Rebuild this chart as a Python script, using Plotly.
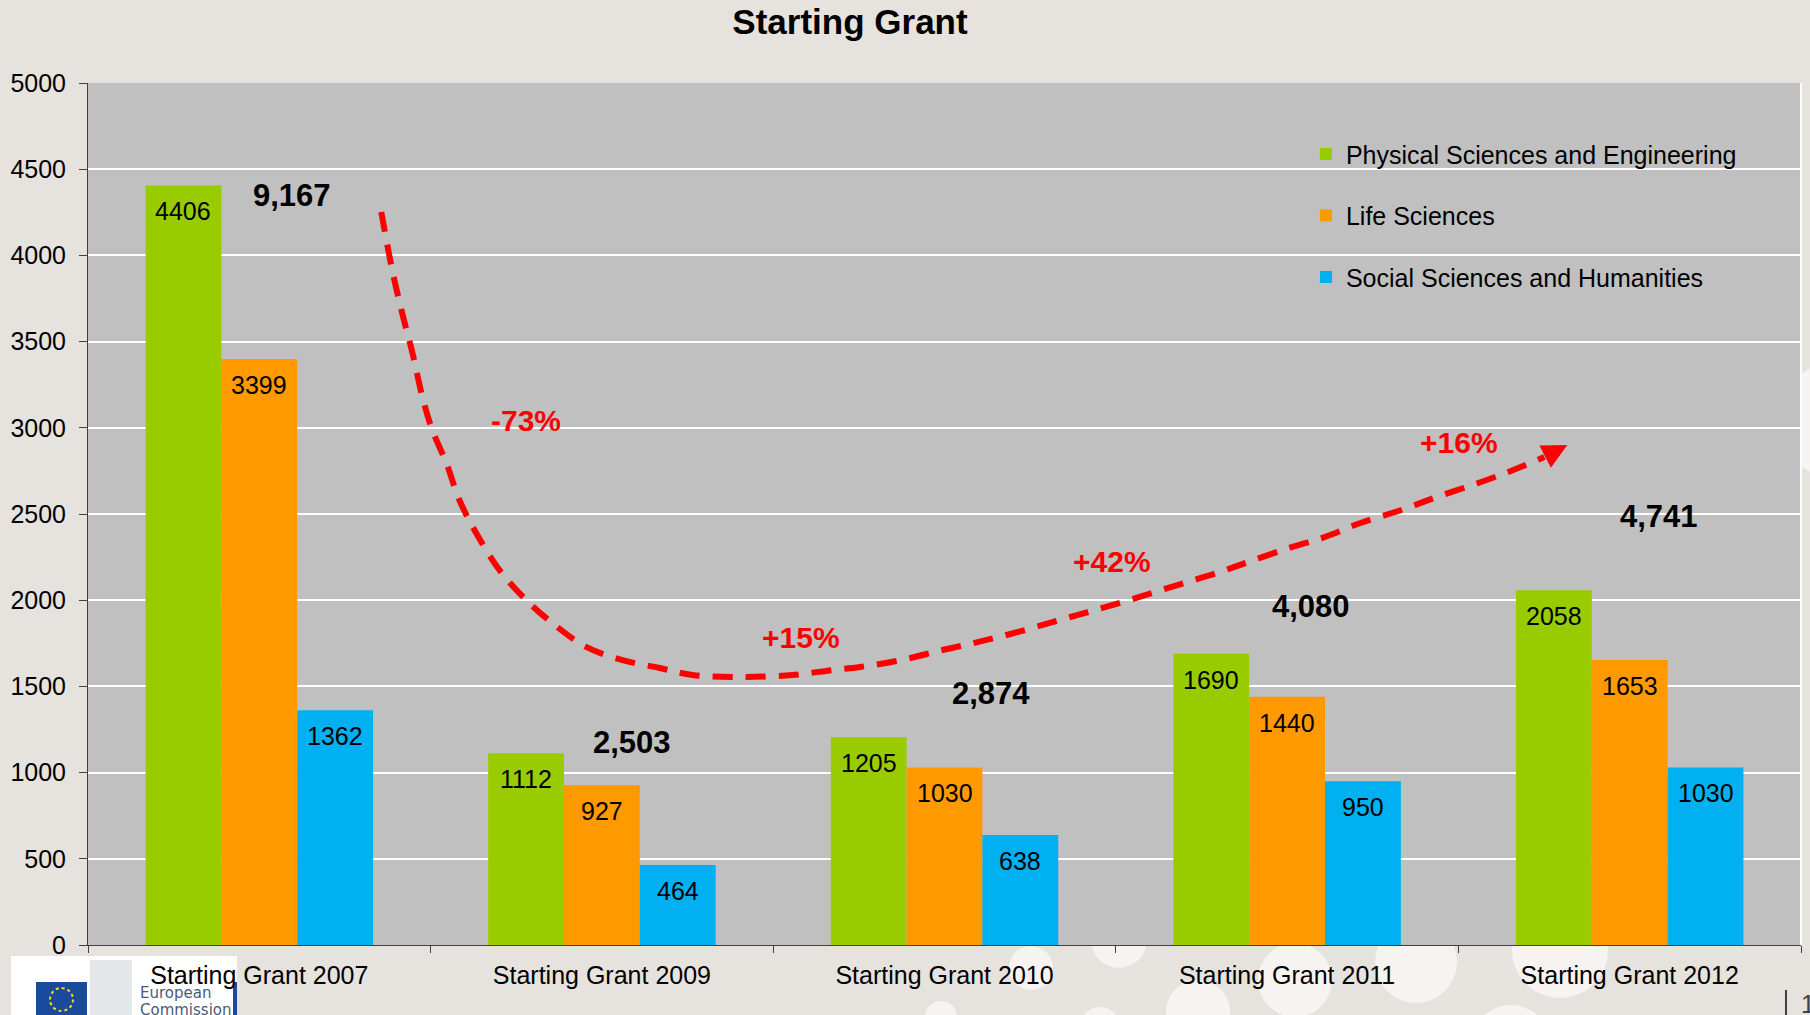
import plotly.graph_objects as go

# ERC Starting Grant applications by domain
categories = ["Starting Grant 2007", "Starting Grant 2009", "Starting Grant 2010",
              "Starting Grant 2011", "Starting Grant 2012"]
series_names = ["Physical Sciences and Engineering", "Life Sciences",
                "Social Sciences and Humanities"]
physical = [4406, 1112, 1205, 1690, 2058]
life = [3399, 927, 1030, 1440, 1653]
social = [1362, 464, 638, 950, 1030]

# totals written above each group
totals = ["9,167", "2,503", "2,874", "4,080", "4,741"]
total_x = [0.096, 1.088, 2.135, 3.071, 4.086]
total_y = [4345, 1177, 1458, 1966, 2488]

# change labels along the trend arrow
changes = ["-73%", "+15%", "+42%", "+16%"]
change_x = [0.779, 1.582, 2.490, 3.503]
change_y = [3045, 1781, 2227, 2912]

# hand-drawn trend arrow (category index, value)
trend_x = [0.356, 0.388, 0.417, 0.447, 0.476, 0.505, 0.546, 0.584, 0.633, 0.701,
           0.779, 0.855, 0.954, 1.060, 1.168, 1.264, 1.410, 1.556, 1.673, 1.754,
           1.874, 1.994, 2.099, 2.215, 2.335, 2.440, 2.560, 2.680, 2.796, 2.887,
           3.006, 3.111, 3.214, 3.333, 3.438, 3.558, 3.660, 3.751, 3.818]
trend_y = [4252, 3915, 3666, 3434, 3179, 2987, 2796, 2581, 2390, 2175,
           2001, 1868, 1729, 1653, 1607, 1566, 1555, 1566, 1595, 1613,
           1653, 1711, 1758, 1816, 1885, 1943, 2013, 2088, 2158, 2222,
           2303, 2367, 2448, 2523, 2599, 2680, 2755, 2831, 2900]

colors = ["#99CC00", "#FF9900", "#00B0F0"]
FONT = "Liberation Sans, Arial, sans-serif"
BG = "#E6E2DE"
PLOT_BG = "#C0C0C0"

# plot area in pixels (for decoration placement only)
L, R, T, B = 88, 1801, 83, 945
YMAX = 5000


def px(xp):
    return (xp - L) / (R - L)


def py(yp):
    return (B - yp) / (B - T)


fig = go.Figure()
for i, (name, vals) in enumerate(zip(series_names, [physical, life, social])):
    fig.add_trace(go.Bar(x=categories, y=vals, name=name, marker_color=colors[i],
                         marker_line_width=0, legendgroup=name))

fig.add_trace(go.Scatter(x=trend_x[:-1], y=trend_y[:-1], xaxis="x2", yaxis="y",
                         mode="lines", line=dict(color="#FF0000", width=6,
                                                 dash="20px,13px", shape="spline"),
                         showlegend=False, hoverinfo="skip"))

annotations = []
bargap = 0.336
bw = (1 - bargap) / 3
for j, vals in enumerate([physical, life, social]):
    for i, v in enumerate(vals):
        annotations.append(dict(x=i + (j - 1) * bw, y=v, xref="x", yref="y",
                                text=str(v), showarrow=False, yshift=-26,
                                font=dict(family=FONT, size=25, color="black")))
for t, xv, yv in zip(totals, total_x, total_y):
    annotations.append(dict(x=xv, y=yv, xref="x", yref="y", text=t, showarrow=False,
                            font=dict(family=FONT, size=31, color="black", weight="bold")))
for t, xv, yv in zip(changes, change_x, change_y):
    annotations.append(dict(x=xv, y=yv, xref="x", yref="y", text=t, showarrow=False,
                            font=dict(family=FONT, size=30, color="#FF0000", weight="bold")))
# arrow head: tail offset in pixels taken from the last trend segment
cat_px = (R - L) / 5
val_px = (B - T) / YMAX
dx = (trend_x[-1] - trend_x[-2]) * cat_px
dy = (trend_y[-1] - trend_y[-2]) * val_px
annotations.append(dict(x=trend_x[-1], y=trend_y[-1], xref="x2", yref="y",
                        ax=-dx, ay=dy, text="", showarrow=True, arrowhead=2,
                        arrowsize=1, arrowwidth=5, arrowcolor="#FF0000"))
# logo text and page number
annotations.append(dict(x=px(138), y=py(1004), xref="paper", yref="paper", xanchor="left",
                        text="European", showarrow=False,
                        font=dict(family="DejaVu Sans", size=15, color="#4A5A78")))
annotations.append(dict(x=px(138), y=py(1021), xref="paper", yref="paper", xanchor="left",
                        text="Commission", showarrow=False,
                        font=dict(family="DejaVu Sans", size=15, color="#4A5A78")))
annotations.append(dict(x=px(1799), y=py(988), xref="paper", yref="paper", xanchor="left",
                        yanchor="top", text="1", showarrow=False,
                        font=dict(family=FONT, size=25, color="#404040")))

shapes = []
# background bubbles
for cx, cy, r in [(1031, 968, 22), (1119, 940, 28), (1198, 1012, 32), (1295, 980, 37),
                  (941, 1017, 16), (1100, 1027, 20), (1416, 962, 41), (1560, 950, 48),
                  (1511, 1045, 40), (1840, 420, 60)]:
    shapes.append(dict(type="circle", xref="paper", yref="paper", layer="below",
                       x0=px(cx - r), x1=px(cx + r), y0=py(cy + r), y1=py(cy - r),
                       fillcolor="#F6F3F1", line_width=0))
# plot area cover (keeps bubbles behind the plot)
shapes.append(dict(type="rect", xref="paper", yref="paper", layer="below",
                   x0=0, x1=1, y0=0, y1=1, fillcolor=PLOT_BG, line_width=0))
# right border of plot area
shapes.append(dict(type="line", xref="paper", yref="paper", x0=1, x1=1, y0=0, y1=1,
                   line=dict(color="white", width=2)))
# logo
shapes.append(dict(type="rect", xref="paper", yref="paper", layer="below",
                   x0=px(11), x1=px(237), y0=py(1016), y1=py(956),
                   fillcolor="white", line_width=0))
shapes.append(dict(type="rect", xref="paper", yref="paper", layer="below",
                   x0=px(90), x1=px(132), y0=py(1016), y1=py(960),
                   fillcolor="#E4E6EA", line_width=0))
shapes.append(dict(type="rect", xref="paper", yref="paper", layer="below",
                   x0=px(36), x1=px(87), y0=py(1016), y1=py(982),
                   fillcolor="#1A4A9C", line_width=0))
shapes.append(dict(type="circle", xref="paper", yref="paper", layer="below",
                   x0=px(50), x1=px(73), y0=py(1011), y1=py(988),
                   line=dict(color="#FFDD00", width=2, dash="dot")))
shapes.append(dict(type="rect", xref="paper", yref="paper", layer="below",
                   x0=px(233), x1=px(237), y0=py(1016), y1=py(982),
                   fillcolor="#1A4A9C", line_width=0))
shapes.append(dict(type="line", xref="paper", yref="paper",
                   x0=px(1786), x1=px(1786), y0=py(1015), y1=py(990),
                   line=dict(color="#404040", width=2)))

fig.update_layout(
    width=1810, height=1015,
    margin=dict(l=L, r=1810 - R, t=T, b=1015 - B),
    paper_bgcolor=BG, plot_bgcolor=PLOT_BG,
    barmode="group", bargap=bargap, bargroupgap=0,
    title=dict(text="Starting Grant", x=850 / 1810, xanchor="center",
               y=1 - 22 / 1015, yanchor="middle",
               font=dict(family=FONT, size=35, color="black", weight="bold")),
    font=dict(family=FONT, size=25, color="black"),
    legend=dict(x=0.711, y=0.944, xanchor="left", yanchor="top",
                bgcolor="rgba(0,0,0,0)", font=dict(family=FONT, size=25, color="black"),
                tracegroupgap=26, traceorder="grouped"),
    xaxis=dict(type="category", range=[-0.5, 4.5], showline=True, linecolor="#404040",
               linewidth=1, ticks="outside", tickson="boundaries", ticklen=7,
               tickcolor="#404040", showgrid=False, ticklabelstandoff=8,
               tickfont=dict(family=FONT, size=25, color="black")),
    xaxis2=dict(overlaying="x", range=[-0.5, 4.5], visible=False, anchor="y"),
    yaxis=dict(range=[0, YMAX], dtick=500, tickformat="d", showline=True,
               linecolor="#404040", linewidth=1, ticks="outside", ticklen=8,
               tickcolor="#404040", showgrid=True, gridcolor="white", gridwidth=1.5,
               zeroline=False, ticklabelstandoff=8,
               tickfont=dict(family=FONT, size=25, color="black")),
    annotations=annotations,
    shapes=shapes,
)

fig.write_html("out.html", config={"displayModeBar": False},
               post_script="document.body.style.margin='0';")
